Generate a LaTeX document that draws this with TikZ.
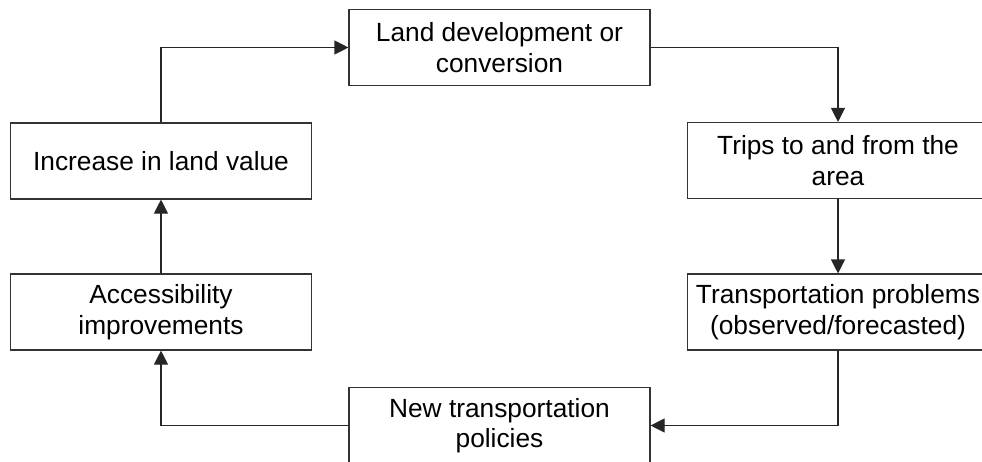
\documentclass[tikz,border=0pt]{standalone}
\usepackage{fontspec}
\setmainfont{Liberation Sans}
\usetikzlibrary{arrows.meta,positioning}

\tikzset{
  cyclebox/.style={draw=black!80, line width=1.1pt, fill=white, rectangle,
    minimum width=301pt, minimum height=76pt, align=center, inner sep=0pt,
    font=\fontsize{26.3}{30.5}\selectfont},
  flow/.style={draw=black!85, line width=1.1pt, -{Triangle[length=14pt,width=14pt]}}
}

\begin{document}
\begin{tikzpicture}[x=1pt, y=-1pt]
 \useasboundingbox (0,0) rectangle (982,461);

 %top and bottom
 \node[cyclebox] (land) at (499.5,47.5) {Land development or\\conversion};
 \node[cyclebox] (policies) at (499.5,425.5) {New transportation\\policies};

 %right column
 \node[cyclebox] (trips) at (838,160.5) {Trips to and from the\\area};
 \node[cyclebox] (problems) at (838,312) {Transportation problems\\(observed/forecasted)};

 %left column
 \node[cyclebox] (value) at (161,161) {Increase in land value};
 \node[cyclebox] (access) at (161,312) {Accessibility\\improvements};

 %arrows
 \draw[flow] (land.east) -| (trips.north);
 \draw[flow] (trips.south) -- (problems.north);
 \draw[flow] (problems.south) |- (policies.east);
 \draw[flow] (policies.west) -| (access.south);
 \draw[flow] (access.north) -- (value.south);
 \draw[flow] (value.north) |- (land.west);

\end{tikzpicture}
\end{document}
